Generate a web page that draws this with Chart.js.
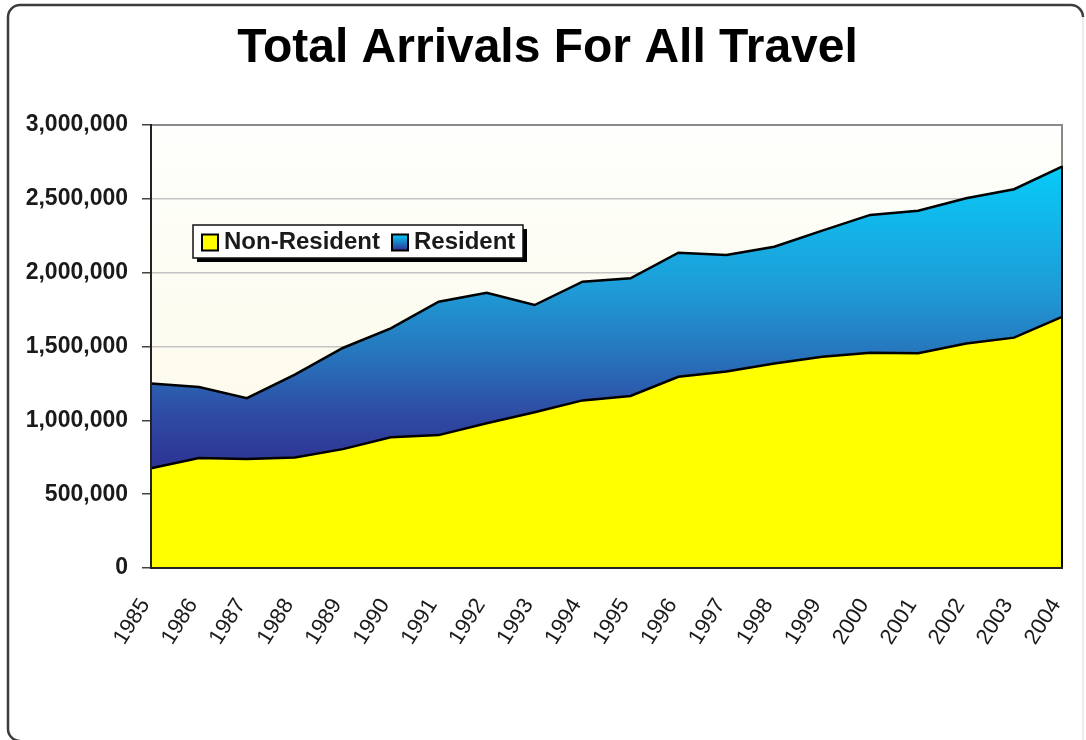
<!DOCTYPE html>
<html>
<head>
<meta charset="utf-8">
<title>Total Arrivals For All Travel</title>
<script src="https://cdn.jsdelivr.net/npm/chart.js@4.4.1/dist/chart.umd.min.js"></script>
<style>
  html, body { margin: 0; padding: 0; background: #ffffff; }
  #wrap { width: 1086px; height: 740px; }
</style>
</head>
<body>
<div id="wrap"><canvas id="arrivalsChart" width="1086" height="740"></canvas></div>
<script>
// Years on the x axis
const years = ["1985", "1986", "1987", "1988", "1989", "1990", "1991", "1992", "1993", "1994",
               "1995", "1996", "1997", "1998", "1999", "2000", "2001", "2002", "2003", "2004"];

// Arrivals (stacked: resident sits on top of non-resident)
const nonResident = [675000, 745000, 738000, 748000, 805000, 885000, 900000, 980000, 1055000, 1135000,
                     1165000, 1295000, 1330000, 1385000, 1430000, 1458000, 1454000, 1520000, 1560000, 1700000];
const resident = [575000, 480000, 412000, 562000, 685000, 738000, 903000, 884000, 726000, 804000,
                  797000, 840000, 790000, 791000, 855000, 933000, 966000, 984000, 1005000, 1018000];

// Value axis
const yMin = 0;
const yMax = 3000000;
const yStep = 500000;

const FONT = "'Liberation Sans', Arial, Helvetica, sans-serif";

/**
 * Gradient for the resident area, cyan on top down to dark blue
 */
function residentFill(context) {
    const chart = context.chart;
    if (!chart.chartArea) return "#1e9ad6";
    const y = chart.scales.y;
    const g = chart.ctx.createLinearGradient(0, y.getPixelForValue(2750000), 0, y.getPixelForValue(650000));
    g.addColorStop(0, "#06cdfa");
    g.addColorStop(0.4, "#1e9dd8");
    g.addColorStop(0.6, "#2679bf");
    g.addColorStop(0.82, "#2f4aa3");
    g.addColorStop(1, "#2e3192");
    return g;
}

// Light cream background of the plot area
const plotBackground = {
    id: "plotBackground",
    beforeDraw(chart) {
        const { ctx, chartArea: a } = chart;
        const g = ctx.createLinearGradient(0, a.top, 0, a.bottom);
        g.addColorStop(0, "#fefefc");
        g.addColorStop(1, "#fbf9e2");
        ctx.save();
        ctx.fillStyle = g;
        ctx.fillRect(a.left, a.top, a.right - a.left, a.bottom - a.top);
        ctx.restore();
    }
};

// Plot frame: grey top/right, black axes, black edge where the areas end
const plotFrame = {
    id: "plotFrame",
    afterDatasetsDraw(chart) {
        const { ctx, chartArea: a } = chart;
        const last = chart.getDatasetMeta(1).data;
        const topPt = last[last.length - 1];

        ctx.save();
        ctx.lineCap = "square";
        ctx.strokeStyle = "#8a8a8a";
        ctx.lineWidth = 2;
        ctx.beginPath();
        ctx.moveTo(a.left, a.top);
        ctx.lineTo(a.right, a.top);
        ctx.lineTo(a.right, a.bottom);
        ctx.stroke();

        ctx.strokeStyle = "#000000";
        ctx.beginPath();
        ctx.moveTo(a.right, topPt.y);
        ctx.lineTo(a.right, a.bottom);
        ctx.stroke();

        ctx.strokeStyle = "#222222";
        ctx.beginPath();
        ctx.moveTo(a.left, a.top);
        ctx.lineTo(a.left, a.bottom);
        ctx.lineTo(a.right, a.bottom);
        ctx.stroke();
        ctx.restore();
    }
};

// Boxed legend with shadow, sitting inside the plot area
const boxLegend = {
    id: "boxLegend",
    afterDraw(chart) {
        const ctx = chart.ctx;
        const x = 193, y = 225, w = 330, h = 33;
        ctx.save();
        ctx.fillStyle = "#000000";
        ctx.fillRect(x + 4, y + 4, w, h);
        ctx.fillStyle = "#ffffff";
        ctx.fillRect(x, y, w, h);
        ctx.strokeStyle = "#111111";
        ctx.lineWidth = 1.5;
        ctx.strokeRect(x, y, w, h);

        ctx.font = "bold 24px " + FONT;
        ctx.textBaseline = "middle";
        let cx = x + 9;
        const midY = y + h / 2 + 1;
        chart.data.datasets.forEach((ds, i) => {
            const s = 16;
            let fill = ds.legendColor;
            if (i === 1) {
                const g = ctx.createLinearGradient(0, midY - s / 2, 0, midY + s / 2);
                g.addColorStop(0, "#06cdfa");
                g.addColorStop(1, "#2e3192");
                fill = g;
            }
            ctx.fillStyle = fill;
            ctx.fillRect(cx, midY - s / 2, s, s);
            ctx.strokeStyle = "#000000";
            ctx.lineWidth = 2;
            ctx.strokeRect(cx, midY - s / 2, s, s);
            cx += s + 6;
            ctx.fillStyle = "#1a1a1a";
            ctx.fillText(ds.label, cx, midY);
            cx += ctx.measureText(ds.label).width + 12;
        });
        ctx.restore();
    }
};

// Rounded outer border of the whole chart (cut by the picture edge at the bottom)
const outerFrame = {
    id: "outerFrame",
    afterDraw(chart) {
        const ctx = chart.ctx;
        const l = 8, t = 5, r = 1083, b = 741, rad = 12;
        ctx.save();
        ctx.strokeStyle = "#e6e6e6";
        ctx.lineWidth = 1.5;
        ctx.beginPath();
        ctx.moveTo(r, t + rad);
        ctx.lineTo(r, b);
        ctx.stroke();
        ctx.strokeStyle = "#3c3c3c";
        ctx.lineWidth = 2.5;
        ctx.beginPath();
        ctx.moveTo(l + rad, b);
        ctx.arcTo(l, b, l, b - rad, rad);
        ctx.lineTo(l, t + rad);
        ctx.arcTo(l, t, l + rad, t, rad);
        ctx.lineTo(r - rad, t);
        ctx.arcTo(r, t, r, t + rad, rad);
        ctx.stroke();
        ctx.restore();
    }
};

const ctx = document.getElementById("arrivalsChart").getContext("2d");

new Chart(ctx, {
    type: "line",
    data: {
        labels: years,
        datasets: [
            {
                label: "Non-Resident",
                data: nonResident,
                legendColor: "#ffff00",
                backgroundColor: "#ffff00",
                borderColor: "#000000",
                borderWidth: 2.5,
                fill: "origin",
                tension: 0,
                pointRadius: 0
            },
            {
                label: "Resident",
                data: resident,
                legendColor: "#1e9ad6",
                backgroundColor: residentFill,
                borderColor: "#000000",
                borderWidth: 2.5,
                fill: "-1",
                tension: 0,
                pointRadius: 0
            }
        ]
    },
    options: {
        responsive: false,
        animation: false,
        layout: {
            padding: { left: 9, right: 0, top: 0, bottom: 0 }
        },
        scales: {
            x: {
                type: "category",
                offset: false,
                afterFit: (scale) => {
                    scale.height = 172;
                    scale.paddingLeft = 0;
                    scale.paddingRight = 24;
                },
                grid: { display: false, drawTicks: false },
                border: { display: false },
                ticks: {
                    autoSkip: false,
                    minRotation: 58,
                    maxRotation: 58,
                    padding: 26,
                    labelOffset: -6,
                    color: "#1a1a1a",
                    font: { family: FONT, size: 22 }
                }
            },
            y: {
                stacked: true,
                min: yMin,
                max: yMax,
                afterFit: (scale) => { scale.width = 142; },
                grid: {
                    color: "#c4c4c4",
                    lineWidth: 1.5,
                    tickColor: "#444444",
                    tickLength: 9
                },
                border: { display: false },
                ticks: {
                    stepSize: yStep,
                    padding: 14,
                    color: "#1a1a1a",
                    font: { family: FONT, size: 23, weight: "bold" },
                    callback: (v) => v.toLocaleString("en-US")
                }
            }
        },
        plugins: {
            legend: { display: false },
            tooltip: { enabled: false },
            filler: { propagate: false },
            title: {
                display: true,
                text: "Total Arrivals For All Travel",
                color: "#000000",
                font: { family: FONT, size: 48, weight: "bold", lineHeight: 1.2 },
                padding: { top: 20, bottom: 47.4 }
            }
        }
    },
    plugins: [plotBackground, plotFrame, boxLegend, outerFrame]
});
</script>
</body>
</html>
